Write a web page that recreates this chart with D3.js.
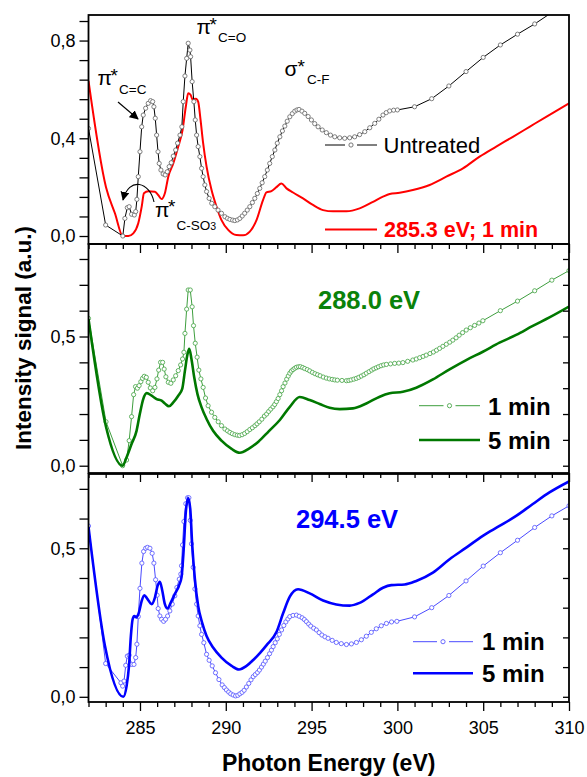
<!DOCTYPE html>
<html>
<head>
<meta charset="utf-8">
<script src="https://cdn.jsdelivr.net/npm/d3@7"></script>
<style>
  body { margin: 0; background: #fff; }
  svg { display: block; }
  text { font-family: "Liberation Sans", Arial, Helvetica, sans-serif; }
</style>
</head>
<body>
<svg id="chart" width="587" height="777"></svg>
<script>
// ---- data: photon energy (eV) vs. intensity (a.u.) ----
const energyDomain = [282, 310];
const energyLabels = [285, 290, 295, 300, 305, 310];

const untreated = [
  [282,0.44],[283,0.045],[284.0,0.0],[284.12,0.072],[284.26,0.116],[284.37,0.12],[284.51,0.089],[284.67,0.086],
  [284.75,0.10],[284.82,0.15],[284.9,0.243],[285.0,0.345],[285.1,0.447],[285.19,0.495],[285.33,0.523],[285.48,0.543],
  [285.62,0.554],[285.74,0.55],[285.81,0.529],[285.89,0.482],[285.97,0.413],[286.05,0.345],[286.12,0.297],[286.22,0.27],
  [286.35,0.254],[286.47,0.25],[286.59,0.263],[286.7,0.284],[286.82,0.30],[286.94,0.327],[287.08,0.352],[287.19,0.38],
  [287.33,0.413],[287.44,0.447],[287.52,0.55],[287.62,0.655],[287.72,0.727],[287.81,0.789],[287.91,0.761],[287.95,0.734],
  [288.04,0.632],[288.14,0.55],[288.22,0.475],[288.3,0.413],[288.39,0.366],[288.49,0.325],[288.59,0.277],[288.68,0.243],
  [288.78,0.209],[288.88,0.182],[289.03,0.154],[289.18,0.134],[289.36,0.12],[289.55,0.106],[289.75,0.093],[289.95,0.079],
  [290.1,0.072],[290.24,0.068],[290.4,0.065],[290.53,0.063],[290.68,0.066],[290.82,0.072],[290.96,0.082],[291.1,0.093],
  [291.25,0.106],[291.4,0.12],[291.55,0.137],[291.69,0.154],[291.84,0.174],[291.98,0.195],[292.12,0.218],[292.27,0.243],
  [292.42,0.27],[292.56,0.297],[292.71,0.325],[292.86,0.352],[293.0,0.38],[293.15,0.406],[293.3,0.43],[293.44,0.45],
  [293.58,0.47],[293.73,0.488],[293.88,0.501],[294.02,0.511],[294.15,0.516],[294.27,0.518],[294.44,0.511],[294.6,0.502],
  [294.8,0.489],[294.99,0.475],[295.18,0.46],[295.38,0.447],[295.62,0.434],[295.86,0.423],[296.1,0.413],[296.35,0.406],
  [296.64,0.402],[296.93,0.40],[297.22,0.402],[297.51,0.406],[297.8,0.415],[298.1,0.427],[298.39,0.443],[298.68,0.461],
  [298.92,0.478],[299.16,0.495],[299.35,0.505],[299.55,0.512],[299.78,0.515],[300.0,0.516],[301,0.529],[302,0.562],
  [303,0.614],[304,0.673],[305,0.731],[306,0.782],[307,0.826],[308,0.868],[309,0.915],[310,0.96]
];

const treated285_1min = [
  [282,0.635],[283.02,0.20],[283.54,0.093],[284.0,0.0],[284.32,0.0],[284.61,0.011],[284.9,0.052],[285.1,0.12],
  [285.23,0.175],[285.48,0.183],[285.87,0.181],[286.06,0.168],[286.26,0.151],[286.45,0.175],[286.65,0.243],[286.94,0.297],
  [287.23,0.366],[287.48,0.434],[287.67,0.529],[287.81,0.584],[287.95,0.578],[288.06,0.559],[288.26,0.562],[288.39,0.55],
  [288.53,0.475],[288.68,0.38],[288.88,0.284],[289.17,0.188],[289.46,0.12],[289.75,0.065],[290.14,0.025],[290.62,0.004],
  [291.01,0.003],[291.4,0.018],[291.79,0.065],[292.17,0.147],[292.37,0.179],[292.66,0.184],[292.95,0.20],[293.24,0.215],
  [293.54,0.195],[293.92,0.178],[294.5,0.154],[295.08,0.127],[295.67,0.106],[296.25,0.101],[297.03,0.101],[297.8,0.113],
  [298.58,0.140],[299.16,0.161],[299.55,0.172],[300.13,0.177],[300.9,0.188],[301.88,0.209],[302.85,0.243],[303.82,0.277],
  [304.79,0.325],[305.76,0.366],[306.73,0.406],[307.7,0.447],[308.67,0.488],[310,0.543]
];

const treated288_1min = [
  [282,0.57],[283.02,0.17],[283.99,0.0],[284.22,0.022],[284.37,0.097],[284.51,0.19],[284.63,0.275],[284.74,0.306],
  [284.85,0.300],[284.95,0.31],[285.05,0.325],[285.15,0.338],[285.25,0.346],[285.37,0.342],[285.48,0.323],[285.6,0.301],
  [285.74,0.29],[285.87,0.303],[285.99,0.336],[286.09,0.37],[286.2,0.40],[286.32,0.40],[286.41,0.374],[286.51,0.344],
  [286.65,0.323],[286.8,0.319],[286.94,0.332],[287.08,0.348],[287.23,0.368],[287.37,0.39],[287.48,0.413],[287.56,0.439],
  [287.62,0.512],[287.72,0.606],[287.81,0.68],[287.93,0.68],[288.04,0.615],[288.12,0.542],[288.22,0.474],[288.33,0.42],
  [288.43,0.37],[288.55,0.336],[288.68,0.303],[288.82,0.262],[288.97,0.232],[289.17,0.207],[289.36,0.187],[289.56,0.17],
  [289.75,0.155],[289.95,0.142],[290.1,0.135],[290.24,0.129],[290.38,0.124],[290.53,0.12],[290.67,0.118],[290.8,0.117],
  [290.95,0.12],[291.1,0.125],[291.25,0.132],[291.4,0.14],[291.55,0.147],[291.7,0.155],[291.82,0.162],[291.95,0.17],
  [292.1,0.18],[292.25,0.192],[292.38,0.2],[292.5,0.21],[292.62,0.219],[292.75,0.228],[292.85,0.237],[292.95,0.248],
  [293.05,0.26],[293.15,0.275],[293.25,0.29],[293.34,0.306],[293.45,0.32],[293.55,0.335],[293.64,0.347],[293.73,0.358],
  [293.82,0.366],[293.92,0.372],[294.02,0.377],[294.12,0.381],[294.24,0.383],[294.35,0.383],[294.48,0.38],[294.6,0.376],
  [294.75,0.372],[294.89,0.367],[295.05,0.361],[295.2,0.356],[295.35,0.352],[295.5,0.348],[295.68,0.343],[295.86,0.339],
  [296.03,0.336],[296.2,0.334],[296.35,0.332],[296.5,0.331],[296.77,0.33],[297.03,0.329],[297.17,0.33],[297.3,0.332],
  [297.46,0.335],[297.61,0.338],[297.75,0.342],[297.9,0.347],[298.05,0.352],[298.19,0.358],[298.35,0.364],[298.5,0.37],
  [298.63,0.375],[298.77,0.379],[298.9,0.383],[299.05,0.387],[299.2,0.39],[299.36,0.392],[299.6,0.394],[299.84,0.396],
  [300.08,0.397],[300.32,0.399],[300.6,0.404],[300.9,0.409],[301.1,0.413],[301.3,0.418],[301.5,0.423],[301.68,0.428],
  [301.9,0.434],[302.1,0.44],[302.28,0.447],[302.46,0.454],[302.65,0.462],[302.85,0.47],[303.05,0.478],[303.23,0.486],
  [303.42,0.495],[303.6,0.505],[303.8,0.515],[304.01,0.525],[304.25,0.534],[304.5,0.543],[304.75,0.552],[304.98,0.561],
  [306,0.6],[307,0.637],[308,0.677],[309,0.718],[310,0.755]
];

const treated288_5min = [
  [282,0.568],[283.02,0.151],[283.99,0.0],[284.22,0.033],[284.51,0.084],[284.8,0.135],[284.99,0.2],[285.19,0.258],
  [285.39,0.281],[285.68,0.271],[285.97,0.258],[286.26,0.252],[286.45,0.241],[286.69,0.23],[286.94,0.245],[287.23,0.271],
  [287.46,0.297],[287.62,0.368],[287.77,0.432],[287.87,0.452],[288.0,0.413],[288.16,0.342],[288.35,0.277],[288.59,0.226],
  [288.88,0.181],[289.26,0.135],[289.75,0.097],[290.34,0.065],[290.82,0.05],[291.35,0.066],[291.9,0.093],[292.5,0.133],
  [293.15,0.177],[293.73,0.228],[294.31,0.266],[294.89,0.254],[295.47,0.239],[296.05,0.224],[296.64,0.219],[297.41,0.222],
  [298.19,0.241],[298.97,0.267],[299.55,0.28],[300.32,0.286],[301.1,0.302],[302.07,0.334],[303.04,0.373],[304.01,0.409],
  [304.98,0.441],[305.95,0.476],[306.92,0.506],[307.89,0.541],[308.86,0.574],[310,0.616]
];

const treated294_1min = [
  [282,0.575],[283,0.112],[283.89,0.047],[283.99,0.036],[284.07,0.053],[284.17,0.106],[284.26,0.137],[284.37,0.14],
  [284.51,0.109],[284.65,0.109],[284.75,0.132],[284.82,0.177],[284.9,0.27],[285.0,0.365],[285.11,0.45],[285.21,0.489],
  [285.33,0.50],[285.44,0.503],[285.58,0.50],[285.71,0.483],[285.81,0.45],[285.91,0.394],[286.0,0.342],[286.06,0.297],
  [286.16,0.272],[286.26,0.261],[286.38,0.254],[286.49,0.261],[286.61,0.272],[286.74,0.289],[286.88,0.312],[287.03,0.34],
  [287.15,0.368],[287.29,0.396],[287.38,0.413],[287.42,0.441],[287.48,0.511],[287.56,0.59],[287.67,0.65],[287.77,0.67],
  [287.85,0.67],[287.93,0.594],[288.0,0.515],[288.1,0.436],[288.2,0.363],[288.3,0.312],[288.39,0.272],[288.49,0.239],
  [288.59,0.21],[288.72,0.182],[288.88,0.143],[289.03,0.123],[289.21,0.104],[289.4,0.081],[289.6,0.058],[289.79,0.04],
  [289.92,0.031],[290.04,0.023],[290.17,0.016],[290.29,0.01],[290.43,0.006],[290.57,0.003],[290.7,0.005],[290.82,0.01],
  [290.95,0.015],[291.07,0.022],[291.2,0.033],[291.34,0.045],[291.47,0.057],[291.6,0.068],[291.72,0.075],[291.85,0.082],
  [291.96,0.09],[292.08,0.1],[292.19,0.11],[292.3,0.12],[292.43,0.132],[292.55,0.145],[292.66,0.157],[292.76,0.169],
  [292.88,0.182],[293.0,0.195],[293.12,0.21],[293.25,0.225],[293.38,0.24],[293.5,0.252],[293.62,0.262],[293.73,0.27],
  [293.92,0.274],[294.12,0.275],[294.28,0.271],[294.45,0.266],[294.58,0.26],[294.7,0.253],[294.83,0.245],[294.95,0.238],
  [295.12,0.231],[295.28,0.225],[295.44,0.216],[295.6,0.208],[295.78,0.202],[295.96,0.197],[296.2,0.19],[296.44,0.183],
  [296.73,0.179],[297.03,0.176],[297.32,0.178],[297.61,0.183],[297.9,0.192],[298.19,0.204],[298.48,0.217],[298.77,0.229],
  [299.06,0.239],[299.36,0.247],[299.66,0.252],[299.97,0.254],[301,0.269],[302,0.3],[303,0.341],[304,0.39],
  [305,0.44],[306,0.485],[307,0.527],[308,0.57],[309,0.609],[310,0.643]
];

const treated294_5min = [
  [282,0.572],[282.96,0.171],[284.03,0.0],[284.22,0.036],[284.36,0.104],[284.47,0.205],[284.57,0.261],[284.67,0.272],
  [284.8,0.267],[284.94,0.284],[285.1,0.323],[285.25,0.342],[285.44,0.329],[285.68,0.312],[285.87,0.334],[286.03,0.374],
  [286.16,0.387],[286.3,0.357],[286.45,0.312],[286.61,0.297],[286.8,0.318],[287.03,0.346],[287.27,0.374],[287.42,0.402],
  [287.56,0.509],[287.67,0.622],[287.81,0.669],[287.93,0.633],[288.04,0.515],[288.2,0.396],[288.39,0.306],[288.62,0.25],
  [288.88,0.205],[289.26,0.166],[289.75,0.132],[290.34,0.104],[290.77,0.092],[291.21,0.104],[291.6,0.124],[292.0,0.148],
  [292.38,0.174],[292.96,0.219],[293.34,0.281],[293.73,0.337],[294.21,0.362],[294.89,0.348],[295.67,0.324],[296.44,0.311],
  [297.22,0.307],[297.8,0.316],[298.58,0.345],[299.16,0.367],[299.65,0.376],[300.42,0.378],[301.1,0.39],[302.07,0.418],
  [303.04,0.463],[304.01,0.502],[304.98,0.542],[305.95,0.575],[306.92,0.609],[307.89,0.649],[308.86,0.688],[310,0.725]
];

// ---- y-axis tick values and labels per panel ----
const topTicks = [0,0.08,0.16,0.24,0.32,0.4,0.48,0.56,0.64,0.72,0.8,0.88];
const topLabels = [0,0.4,0.8];
const midTicks = [0,0.1,0.2,0.3,0.4,0.5,0.6,0.7,0.8];
const midLabels = [0,0.5];
const lowTicks = [0,0.1,0.2,0.3,0.4,0.5,0.6,0.7];
const lowLabels = [0,0.5];

// ---- layout ----
const svg = d3.select("#chart");
const plotLeft = 88.5, plotRight = 569;
const x = d3.scaleLinear().domain(energyDomain).range([plotLeft, plotRight]);
const commaFmt = v => d3.format(".1f")(v).replace(".", ",");

const panels = [
  { id: "p1", top: 15, bottom: 244, domain: [-0.0327, 0.9046], ticks: topTicks, labels: topLabels, rightTicks: false, xLabels: false },
  { id: "p2", top: 244, bottom: 473, domain: [-0.0282, 0.8580], ticks: midTicks, labels: midLabels, rightTicks: true, xLabels: false },
  { id: "p3", top: 474, bottom: 702, domain: [-0.0175, 0.7500], ticks: lowTicks, labels: lowLabels, rightTicks: true, xLabels: true }
];

const defs = svg.append("defs");
defs.append("marker").attr("id", "arrowHead")
  .attr("viewBox", "0 0 10 10").attr("refX", 9).attr("refY", 5)
  .attr("markerWidth", 9).attr("markerHeight", 9).attr("markerUnits", "userSpaceOnUse")
  .attr("orient", "auto")
  .append("path").attr("d", "M0,0 L10,5 L0,10 z").attr("fill", "#000");

panels.forEach(p => {
  p.y = d3.scaleLinear().domain(p.domain).range([p.bottom, p.top]);
  defs.append("clipPath").attr("id", "clip-" + p.id)
    .append("rect").attr("x", plotLeft).attr("y", p.top)
    .attr("width", plotRight - plotLeft).attr("height", p.bottom - p.top);
});

function drawSeries(p, data, opts) {
  const g = svg.append("g").attr("clip-path", `url(#clip-${p.id})`);
  const line = d3.line().x(d => x(d[0])).y(d => p.y(d[1]))
    .curve(opts.markers ? d3.curveLinear : d3.curveMonotoneX);
  g.append("path").datum(data)
    .attr("d", line).attr("fill", "none")
    .attr("stroke", opts.color).attr("stroke-width", opts.width)
    .attr("stroke-linejoin", "round");
  if (opts.markers) {
    g.selectAll("circle").data(data).join("circle")
      .attr("cx", d => x(d[0])).attr("cy", d => p.y(d[1]))
      .attr("r", 2.1).attr("fill", "#fff")
      .attr("stroke", opts.markerColor).attr("stroke-width", 0.85);
  }
}

function drawAxes(p) {
  // left axis, outward ticks
  const gl = svg.append("g").attr("transform", `translate(${plotLeft},0)`)
    .call(d3.axisLeft(p.y).tickValues(p.ticks).tickSize(9).tickSizeOuter(0)
      .tickFormat(d => p.labels.some(l => Math.abs(l - d) < 1e-9) ? commaFmt(d) : ""));
  gl.select(".domain").remove();
  gl.selectAll("line").attr("stroke", "#000").attr("stroke-width", 1.3);
  gl.selectAll("text").attr("font-size", 18).attr("fill", "#000")
    .attr("font-family", '"Liberation Sans", Arial, sans-serif').attr("dx", -1);

  if (p.rightTicks) {
    const gr = svg.append("g").attr("transform", `translate(${plotRight},0)`)
      .call(d3.axisRight(p.y).tickValues(p.ticks).tickSize(-6).tickSizeOuter(0).tickFormat(""));
    gr.select(".domain").remove();
    gr.selectAll("line").attr("stroke", "#000").attr("stroke-width", 1.3);
  }

  // bottom axis: minor ticks every 1 eV, major every 5 eV, all outward
  const minor = d3.range(energyDomain[0], energyDomain[1] + 1).filter(v => v % 5 !== 0);
  const gm = svg.append("g").attr("transform", `translate(0,${p.bottom})`)
    .call(d3.axisBottom(x).tickValues(minor).tickSize(5).tickSizeOuter(0).tickFormat(""));
  gm.select(".domain").remove();
  gm.selectAll("line").attr("stroke", "#000").attr("stroke-width", 1.3);
  const gM = svg.append("g").attr("transform", `translate(0,${p.bottom})`)
    .call(d3.axisBottom(x).tickValues(energyLabels).tickSize(9).tickPadding(10).tickSizeOuter(0)
      .tickFormat(p.xLabels ? d3.format("d") : ""));
  gM.select(".domain").remove();
  gM.selectAll("line").attr("stroke", "#000").attr("stroke-width", 1.3);
  gM.selectAll("text").attr("font-size", 18).attr("fill", "#000")
    .attr("font-family", '"Liberation Sans", Arial, sans-serif');

  svg.append("rect").attr("x", plotLeft).attr("y", p.top)
    .attr("width", plotRight - plotLeft).attr("height", p.bottom - p.top)
    .attr("fill", "none").attr("stroke", "#000").attr("stroke-width", 1.8);
}

const [P1, P2, P3] = panels;

// top panel
drawSeries(P1, treated285_1min, { color: "#ff0000", width: 2 });
drawSeries(P1, untreated, { color: "#000", width: 1, markers: true, markerColor: "#6a6a6a" });
// middle panel
drawSeries(P2, treated288_1min, { color: "#3e9e3e", width: 1, markers: true, markerColor: "#4aa64a" });
drawSeries(P2, treated288_5min, { color: "#007800", width: 2.6 });
// bottom panel
drawSeries(P3, treated294_1min, { color: "#4a4aff", width: 1, markers: true, markerColor: "#5a5aff" });
drawSeries(P3, treated294_5min, { color: "#0000ff", width: 2.6 });

panels.forEach(drawAxes);

// ---- axis titles ----
svg.append("text").attr("x", 328.7).attr("y", 771)
  .attr("text-anchor", "middle").attr("font-size", 23).attr("font-weight", "bold")
  .text("Photon Energy (eV)");
svg.append("text").attr("transform", "translate(30.5,338) rotate(-90)")
  .attr("text-anchor", "middle").attr("font-size", 22.5).attr("font-weight", "bold")
  .text("Intensity signal (a.u.)");

// ---- transition labels (top panel): symbol, raised star, lowered subscript ----
function transition(xp, yp, sym, starDy, sub, subDx, subDy, subSize, extra) {
  const t = svg.append("text").attr("x", xp).attr("y", yp).attr("font-size", 21);
  t.append("tspan").text(sym);
  t.append("tspan").attr("x", xp + 13).attr("y", yp + starDy).attr("font-size", 19).text("*");
  t.append("tspan").attr("x", xp + subDx).attr("y", yp + subDy).attr("font-size", subSize).text(sub);
  if (extra) t.append("tspan").attr("font-size", subSize * 0.78).text(extra);
}
transition(97.5, 85, "\u03c0", -3, "C=C", 21.5, 8.5, 13.5);
transition(196.5, 33.5, "\u03c0", -2.5, "C=O", 21.5, 8, 13.5);
transition(284.5, 76, "\u03c3", -3, "C-F", 22.5, 8, 13.5);
transition(155, 216.5, "\u03c0", -4, "C-SO", 21.5, 13.5, 13.5, "3");

// arrows pointing at the C=C and C-SO3 features
svg.append("line").attr("x1", 118).attr("y1", 102).attr("x2", 138).attr("y2", 119)
  .attr("stroke", "#000").attr("stroke-width", 1.1).attr("marker-end", "url(#arrowHead)");
svg.append("path").attr("d", "M154,202 C150,182 129,176 123,200")
  .attr("fill", "none").attr("stroke", "#000").attr("stroke-width", 1.1)
  .attr("marker-end", "url(#arrowHead)");

// ---- legends ----
function legendMarkerLine(x0, x1, y, color, markerColor) {
  const mid = (x0 + x1) / 2;
  svg.append("line").attr("x1", x0).attr("x2", mid - 6).attr("y1", y).attr("y2", y)
    .attr("stroke", color).attr("stroke-width", 1);
  svg.append("line").attr("x1", mid + 6).attr("x2", x1).attr("y1", y).attr("y2", y)
    .attr("stroke", color).attr("stroke-width", 1);
  svg.append("circle").attr("cx", mid).attr("cy", y).attr("r", 2.1)
    .attr("fill", "#fff").attr("stroke", markerColor).attr("stroke-width", 0.9);
}
function legendLine(x0, x1, y, color, w) {
  svg.append("line").attr("x1", x0).attr("x2", x1).attr("y1", y).attr("y2", y)
    .attr("stroke", color).attr("stroke-width", w);
}

legendMarkerLine(325, 377, 145, "#000", "#6a6a6a");
svg.append("text").attr("x", 383.5).attr("y", 153).attr("font-size", 22).text("Untreated");
legendLine(325, 377, 229.5, "#ff0000", 2);
svg.append("text").attr("x", 384).attr("y", 237).attr("font-size", 21.5).attr("font-weight", "bold")
  .attr("fill", "#ff0000").text("285.3 eV; 1 min");

svg.append("text").attr("x", 318).attr("y", 308.5).attr("font-size", 25.5).attr("font-weight", "bold")
  .attr("fill", "#0a820a").text("288.0 eV");
legendMarkerLine(419, 480, 405.7, "#3e9e3e", "#4aa64a");
svg.append("text").attr("x", 488).attr("y", 415).attr("font-size", 24).attr("font-weight", "bold").text("1 min");
legendLine(419, 480, 440, "#007800", 2.6);
svg.append("text").attr("x", 488).attr("y", 448.5).attr("font-size", 24).attr("font-weight", "bold").text("5 min");

svg.append("text").attr("x", 296).attr("y", 527.5).attr("font-size", 25.5).attr("font-weight", "bold")
  .attr("fill", "#0000ff").text("294.5 eV");
legendMarkerLine(413, 473, 641.7, "#4a4aff", "#5a5aff");
svg.append("text").attr("x", 482).attr("y", 650).attr("font-size", 24).attr("font-weight", "bold").text("1 min");
legendLine(413, 473, 673.3, "#0000ff", 2.6);
svg.append("text").attr("x", 482).attr("y", 682).attr("font-size", 24).attr("font-weight", "bold").text("5 min");
</script>
</body>
</html>
